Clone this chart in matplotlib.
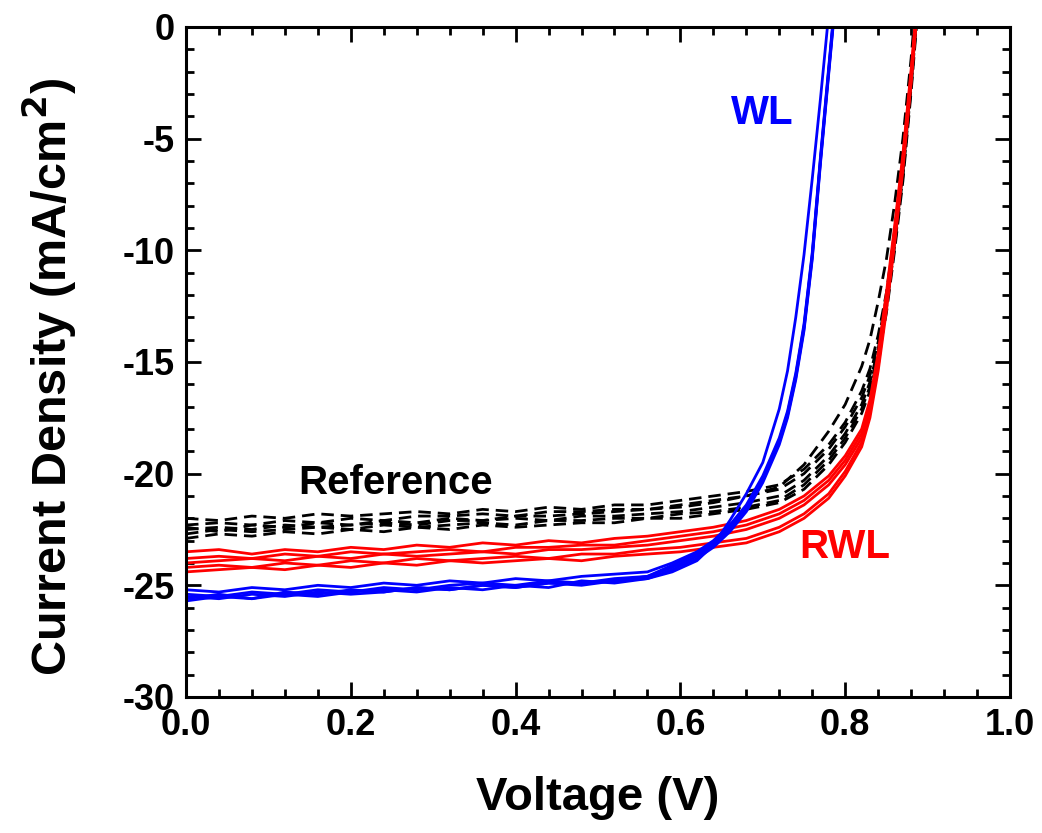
import matplotlib
matplotlib.use("Agg")
import matplotlib.pyplot as plt
from matplotlib.ticker import MultipleLocator

plt.rcParams["font.family"] = ["Liberation Sans", "DejaVu Sans"]
plt.rcParams["font.weight"] = "bold"

# voltage grids (V)
v_ref = [0.00, 0.04, 0.08, 0.12, 0.16, 0.20, 0.24, 0.28, 0.32, 0.36, 0.40, 0.44, 0.48,
         0.52, 0.56, 0.60, 0.64, 0.68, 0.72, 0.75, 0.78, 0.80, 0.82, 0.83, 0.84, 0.85,
         0.86, 0.87, 0.88, 0.89]
v_rwl = v_ref
v_wl = [0.00, 0.04, 0.08, 0.12, 0.16, 0.20, 0.24, 0.28, 0.32, 0.36, 0.40, 0.44, 0.48,
        0.52, 0.56, 0.59, 0.62, 0.64, 0.66, 0.68, 0.70, 0.72, 0.73, 0.74, 0.75, 0.76,
        0.77, 0.78, 0.79, 0.80]

# current density (mA/cm2)
ref_1 = [-22.0, -22.1, -21.9, -22.0, -21.8, -21.9, -21.8, -21.7, -21.8, -21.6, -21.7, -21.5, -21.6,
         -21.4, -21.4, -21.2, -21.0, -20.8, -20.5, -19.8, -18.7, -17.7, -16.3, -15.3, -13.8, -11.9,
         -9.2, -6.1, -2.2, 2.2]
ref_2 = [-22.3, -22.2, -22.3, -22.1, -22.2, -22.0, -22.1, -21.9, -21.9, -21.8, -21.9, -21.7, -21.7,
         -21.6, -21.6, -21.4, -21.2, -21.0, -20.7, -20.0, -18.9, -17.9, -16.6, -15.6, -14.1, -12.1,
         -9.4, -6.3, -2.4, 2.0]
ref_3 = [-22.5, -22.4, -22.5, -22.3, -22.4, -22.3, -22.2, -22.3, -22.1, -22.1, -22.0, -22.1, -21.9,
         -21.9, -21.8, -21.7, -21.5, -21.3, -21.0, -20.3, -19.2, -18.2, -16.9, -15.9, -14.4, -12.4,
         -9.6, -6.5, -2.5, 2.0]
ref_4 = [-22.7, -22.5, -22.6, -22.5, -22.4, -22.5, -22.3, -22.4, -22.3, -22.2, -22.3, -22.1, -22.1,
         -22.0, -22.0, -21.8, -21.7, -21.5, -21.2, -20.5, -19.4, -18.4, -17.1, -16.1, -14.6, -12.6,
         -9.8, -6.7, -2.7, 1.8]
ref_5 = [-22.9, -22.7, -22.8, -22.6, -22.7, -22.5, -22.6, -22.4, -22.5, -22.3, -22.4, -22.3, -22.2,
         -22.2, -22.0, -22.0, -21.8, -21.6, -21.3, -20.7, -19.6, -18.6, -17.3, -16.3, -14.8, -12.8,
         -10.0, -6.9, -2.9, 1.6]
ref_6 = [-22.4, -22.6, -22.3, -22.4, -22.2, -22.3, -22.1, -22.2, -22.0, -22.1, -21.9, -21.9, -21.8,
         -21.7, -21.6, -21.5, -21.3, -21.0, -20.6, -19.6, -18.1, -16.9, -15.2, -14.0, -12.3, -10.4,
         -7.9, -5.0, -1.4, 3.0]

rwl_1 = [-23.5, -23.4, -23.6, -23.4, -23.5, -23.3, -23.4, -23.2, -23.3, -23.1, -23.2, -23.0, -23.1,
         -22.9, -22.8, -22.6, -22.4, -22.1, -21.6, -21.0, -20.1, -19.2, -18.0, -16.7, -14.6, -11.9,
         -8.9, -5.7, -1.9, 2.3]
rwl_2 = [-23.8, -23.7, -23.8, -23.6, -23.7, -23.5, -23.6, -23.5, -23.4, -23.5, -23.3, -23.3, -23.2,
         -23.2, -23.0, -22.8, -22.6, -22.3, -21.8, -21.2, -20.3, -19.4, -18.2, -16.9, -14.8, -12.1,
         -9.1, -5.9, -2.1, 2.2]
rwl_3 = [-24.0, -23.9, -23.8, -23.9, -23.7, -23.8, -23.6, -23.7, -23.6, -23.5, -23.6, -23.4, -23.4,
         -23.3, -23.2, -23.0, -22.8, -22.5, -22.0, -21.4, -20.5, -19.6, -18.4, -17.1, -15.0, -12.3,
         -9.3, -6.0, -2.2, 2.1]
rwl_4 = [-24.2, -24.1, -24.2, -24.0, -24.1, -23.9, -24.0, -23.8, -23.9, -23.8, -23.7, -23.8, -23.6,
         -23.6, -23.4, -23.3, -23.1, -22.9, -22.4, -21.8, -20.9, -19.9, -18.6, -17.3, -15.2, -12.5,
         -9.5, -6.2, -2.4, 2.0]
rwl_5 = [-24.4, -24.3, -24.2, -24.3, -24.1, -24.2, -24.0, -24.1, -23.9, -24.0, -23.9, -23.8, -23.9,
         -23.7, -23.6, -23.5, -23.3, -23.1, -22.6, -22.0, -21.1, -20.1, -18.8, -17.5, -15.4, -12.7,
         -9.7, -6.4, -2.5, 1.9]

wl_1 = [-25.6, -25.4, -25.6, -25.3, -25.4, -25.2, -25.3, -25.1, -25.2, -25.0, -25.1, -24.9, -24.9,
        -24.8, -24.7, -24.4, -23.9, -23.2, -22.1, -20.9, -19.5, -17.1, -15.4, -13.0, -10.2, -6.8,
        -3.2, 0.6, 4.5, 8.5]
wl_2 = [-25.2, -25.3, -25.1, -25.2, -25.0, -25.1, -24.9, -25.0, -24.8, -24.9, -24.7, -24.8, -24.6,
        -24.5, -24.4, -24.0, -23.5, -23.0, -22.3, -21.4, -20.1, -18.4, -17.2, -15.5, -13.3, -10.1,
        -5.8, -1.8, 2.2, 6.0]
wl_3 = [-25.4, -25.5, -25.3, -25.4, -25.2, -25.3, -25.1, -25.2, -25.0, -24.9, -25.0, -24.8, -24.9,
        -24.7, -24.6, -24.2, -23.7, -23.2, -22.5, -21.6, -20.3, -18.6, -17.4, -15.7, -13.5, -10.3,
        -6.0, -2.0, 2.0, 5.8]
wl_4 = [-25.7, -25.5, -25.6, -25.4, -25.5, -25.3, -25.2, -25.3, -25.1, -25.2, -25.0, -25.1, -24.8,
        -24.9, -24.7, -24.3, -23.8, -23.3, -22.6, -21.7, -20.4, -18.7, -17.5, -15.8, -13.6, -10.4,
        -6.1, -2.1, 1.9, 5.7]
wl_5 = [-25.5, -25.6, -25.4, -25.5, -25.3, -25.4, -25.3, -25.1, -25.2, -25.0, -25.1, -24.9, -25.0,
        -24.8, -24.6, -24.1, -23.6, -23.1, -22.4, -21.5, -20.2, -18.5, -17.3, -15.6, -13.4, -10.2,
        -5.9, -1.9, 2.1, 5.9]

ref_curves = [ref_1, ref_2, ref_3, ref_4, ref_5, ref_6]
rwl_curves = [rwl_1, rwl_2, rwl_3, rwl_4, rwl_5]
wl_curves = [wl_1, wl_2, wl_3, wl_4, wl_5]

fig = plt.figure(figsize=(10.42, 8.33), dpi=100)
ax = fig.add_axes([0.1785, 0.1633, 0.7908, 0.8043])

for j in ref_curves:
    ax.plot(v_ref, j, color="black", lw=2.0, linestyle=(0, (4.5, 2.5)))
for j in rwl_curves:
    ax.plot(v_rwl, j, color="#ff0000", lw=2.0)
for j in wl_curves:
    ax.plot(v_wl, j, color="#0000ff", lw=2.0)

ax.text(0.254, -20.4, "Reference", color="black", fontsize=29, fontweight="bold",
        ha="center", va="center")
ax.text(0.80, -23.3, "RWL", color="#ff0000", fontsize=29, fontweight="bold",
        ha="center", va="center")
ax.text(0.699, -3.85, "WL", color="#0000ff", fontsize=29, fontweight="bold",
        ha="center", va="center")

ax.set_xlim(0, 1.0)
ax.set_ylim(-30, 0)
ax.xaxis.set_major_locator(MultipleLocator(0.2))
ax.xaxis.set_minor_locator(MultipleLocator(0.04))
ax.yaxis.set_major_locator(MultipleLocator(5))
ax.yaxis.set_minor_locator(MultipleLocator(1))
ax.set_xticklabels([f"{t:.1f}" for t in ax.get_xticks()])
ax.set_yticklabels([f"{t:g}" for t in ax.get_yticks()])

ax.tick_params(which="both", direction="in", top=True, right=True, width=2,
               labelsize=26, pad=8)
ax.tick_params(which="major", length=11)
ax.tick_params(which="minor", length=6)
for s in ax.spines.values():
    s.set_linewidth(2.2)

ax.set_xlabel("Voltage (V)", fontsize=34, fontweight="bold", labelpad=24)
ax.set_ylabel("Current Density (mA/cm$^\\mathbf{2}$)", fontsize=35, fontweight="bold")
ax.yaxis.set_label_coords(-0.13, 0.478)

fig.savefig("out.png", dpi=100)
